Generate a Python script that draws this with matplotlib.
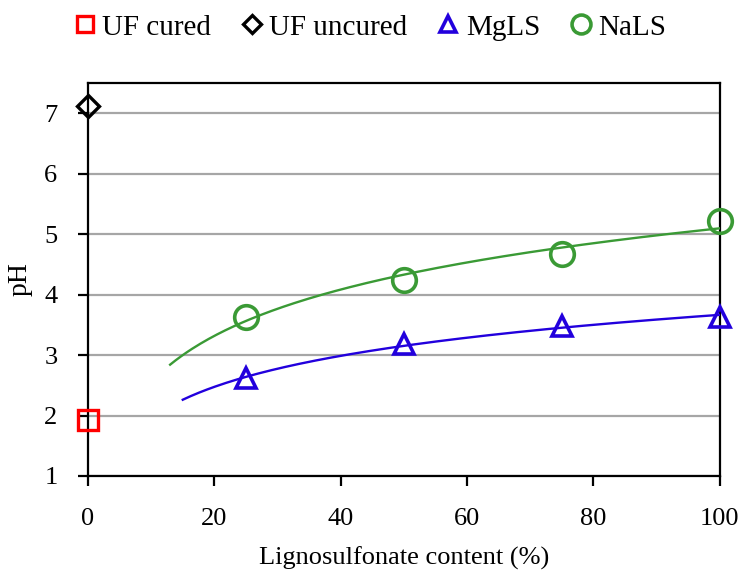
import matplotlib
matplotlib.use("Agg")
import matplotlib.pyplot as plt
import numpy as np

plt.rcParams['font.family'] = ['Liberation Serif', 'DejaVu Serif']

# data
uf_x = [0]
uf_cured = [1.92]
uf_uncured = [7.12]
ls_content = [25, 50, 75, 100]
mgls_ph = [2.62, 3.18, 3.48, 3.63]
nals_ph = [3.63, 4.24, 4.68, 5.22]
mgls_trend_start = 15
nals_trend_start = 13

blue = '#2200DD'
green = '#3A9A35'

fig = plt.figure(figsize=(7.42, 5.71), dpi=100)
ax = fig.add_axes([0.1186, 0.1664, 0.8514, 0.6882])

# logarithmic trendlines (like Excel)
for xs, ys, x0, col in [(ls_content, mgls_ph, mgls_trend_start, blue),
                        (ls_content, nals_ph, nals_trend_start, green)]:
    a, b = np.polyfit(np.log(xs), ys, 1)
    xt = np.linspace(x0, 100, 200)
    ax.plot(xt, a * np.log(xt) + b, color=col, lw=1.7, zorder=3)

ax.plot(uf_x, uf_cured, 's', ms=14, mfc='none', mec='#FF0000', mew=2.4,
        label='UF cured', zorder=5, clip_on=False)
ax.plot(uf_x, uf_uncured, 'D', ms=11, mfc='none', mec='black', mew=2.4,
        label='UF uncured', zorder=5, clip_on=False)
ax.plot(ls_content, mgls_ph, '^', ms=15, mfc='none', mec=blue, mew=2.6,
        label='MgLS', zorder=5, clip_on=False)
ax.plot(ls_content, nals_ph, 'o', ms=17, mfc='none', mec=green, mew=2.6,
        label='NaLS', zorder=5, clip_on=False)

ax.set_xlim(0, 100)
ax.set_ylim(1, 7.5)
ax.set_xticks([0, 20, 40, 60, 80, 100])
ax.set_yticks([1, 2, 3, 4, 5, 6, 7])
ax.yaxis.grid(True, color='#A6A6A6', lw=1.6)
ax.set_axisbelow(True)
for s in ax.spines.values():
    s.set_linewidth(1.6)
ax.tick_params(axis='both', labelsize=19, width=1.6, length=7, direction='out')
ax.tick_params(axis='x', pad=16)
ax.tick_params(axis='y', pad=15)
ax.set_xlabel('Lignosulfonate content (%)', fontsize=19, labelpad=12)
ax.set_ylabel('pH', fontsize=20, labelpad=8)

handles, labels = ax.get_legend_handles_labels()
leg = fig.legend(handles, labels, loc='center', bbox_to_anchor=(0.5, 0.952),
                 ncol=4, frameon=False, fontsize=21, markerscale=0.8,
                 handlelength=0.6, handletextpad=0.3, columnspacing=1.1)

fig.savefig('out.png', dpi=100)
